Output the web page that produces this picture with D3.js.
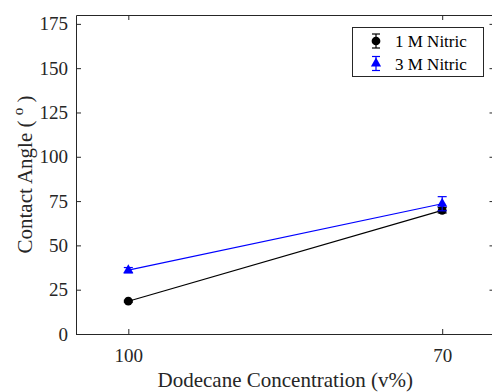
<!DOCTYPE html>
<html>
<head>
<meta charset="utf-8">
<script src="https://cdn.jsdelivr.net/npm/d3@7"></script>
<style>
  html, body { margin: 0; padding: 0; background: #fff; overflow: hidden; }
  svg text { font-family: "Liberation Serif", "Times New Roman", "DejaVu Serif", serif; }
</style>
</head>
<body>
<svg id="chart" width="492" height="392"></svg>
<script>
// Dodecane concentration (v%) on the x axis, reversed
const concentrations = [100, 70];
const xTickLabels = ["100", "70"];
const yTicks = [0, 25, 50, 75, 100, 125, 150, 175];

// Contact angle (degrees) and error bars per nitric acid concentration
const nitric1M = [18.5, 69.8];
const nitric1MErr = [0.5, 1.5];
const nitric3M = [36.0, 73.5];
const nitric3MErr = [1.5, 4.0];

const seriesNames = ["1 M Nitric", "3 M Nitric"];
const seriesColors = ["#000000", "#0000ff"];

const FONT = "'Liberation Serif', 'Times New Roman', 'DejaVu Serif', serif";
const svg = d3.select("#chart");
const W = 492, H = 392;
const plot = { left: 76, right: 494.5, top: 15, bottom: 334 };
const axisColor = "#262626";

const x = d3.scaleLinear().domain([105, 65]).range([plot.left, plot.right]);
const y = d3.scaleLinear().domain([0, 180]).range([plot.bottom, plot.top]);

const g = svg.append("g");

// Axes with inward ticks on all four sides
const tickLen = 5;
const bottomAxis = d3.axisBottom(x).tickValues(concentrations).tickFormat((d, i) => xTickLabels[i]).tickSizeInner(-tickLen).tickSizeOuter(0).tickPadding(15);
const topAxis = d3.axisTop(x).tickValues(concentrations).tickFormat("").tickSizeInner(-tickLen).tickSizeOuter(0);
const leftAxis = d3.axisLeft(y).tickValues(yTicks).tickSizeInner(-tickLen).tickSizeOuter(0).tickPadding(8);
const rightAxis = d3.axisRight(y).tickValues(yTicks).tickFormat("").tickSizeInner(-tickLen).tickSizeOuter(0);

function styleAxis(sel) {
  sel.attr("font-family", FONT).attr("font-size", 19);
  sel.select(".domain").attr("stroke", axisColor).attr("stroke-width", 1);
  sel.selectAll(".tick line").attr("stroke", axisColor).attr("stroke-width", 1);
  sel.selectAll(".tick text").attr("fill", axisColor);
}

g.append("g").attr("transform", `translate(0,${plot.bottom})`).call(bottomAxis).call(styleAxis);
g.append("g").attr("transform", `translate(0,${plot.top})`).call(topAxis).call(styleAxis);
g.append("g").attr("transform", `translate(${plot.left},0)`).call(leftAxis).call(styleAxis);
g.append("g").attr("transform", `translate(${plot.right},0)`).call(rightAxis).call(styleAxis);

// Axis titles
svg.append("text")
  .attr("x", (plot.left + plot.right) / 2)
  .attr("y", 387)
  .attr("text-anchor", "middle")
  .attr("fill", axisColor)
  .attr("font-family", FONT)
  .attr("font-size", 21)
  .text("Dodecane Concentration (v%)");

const yTitle = svg.append("text")
  .attr("transform", `translate(32,${(plot.top + plot.bottom) / 2}) rotate(-90)`)
  .attr("text-anchor", "middle")
  .attr("fill", axisColor)
  .attr("font-family", FONT)
  .attr("font-size", 21);
yTitle.append("tspan").text("Contact Angle ( ");
yTitle.append("tspan").attr("dy", -9).attr("font-size", 15).text("o");
yTitle.append("tspan").attr("dy", 9).text(" )");

// Series
const series = [
  { name: seriesNames[0], values: nitric1M, err: nitric1MErr, color: seriesColors[0], symbol: d3.symbolCircle, size: 60 },
  { name: seriesNames[1], values: nitric3M, err: nitric3MErr, color: seriesColors[1], symbol: d3.symbolTriangle, size: 45 }
];

const line = d3.line().x(d => x(d.c)).y(d => y(d.v));
const capW = 4.5;

series.forEach(s => {
  const pts = concentrations.map((c, i) => ({ c, v: s.values[i], e: s.err[i] }));
  g.append("path").datum(pts).attr("d", line).attr("fill", "none").attr("stroke", s.color).attr("stroke-width", 1.2);
  const eb = g.append("g").attr("stroke", s.color).attr("stroke-width", 1.2);
  pts.forEach(p => {
    const px = x(p.c), top = y(p.v + p.e), bot = y(p.v - p.e);
    eb.append("line").attr("x1", px).attr("x2", px).attr("y1", top).attr("y2", bot);
    eb.append("line").attr("x1", px - capW).attr("x2", px + capW).attr("y1", top).attr("y2", top);
    eb.append("line").attr("x1", px - capW).attr("x2", px + capW).attr("y1", bot).attr("y2", bot);
  });
  g.append("g").selectAll("path").data(pts).join("path")
    .attr("transform", d => `translate(${x(d.c)},${y(d.v)})`)
    .attr("d", d3.symbol().type(s.symbol).size(s.size))
    .attr("fill", s.color);
});

// Legend
const lg = svg.append("g").attr("transform", "translate(352.5,27.5)");
lg.append("rect").attr("width", 131).attr("height", 49).attr("fill", "#fff").attr("stroke", axisColor).attr("stroke-width", 1);
series.forEach((s, i) => {
  const cy = 13.5 + i * 22.5;
  const gi = lg.append("g").attr("transform", `translate(23.5,${cy})`);
  gi.append("line").attr("x1", 0).attr("x2", 0).attr("y1", -7).attr("y2", 7).attr("stroke", s.color).attr("stroke-width", 1.2);
  gi.append("line").attr("x1", -4).attr("x2", 4).attr("y1", -7).attr("y2", -7).attr("stroke", s.color).attr("stroke-width", 1.2);
  gi.append("line").attr("x1", -4).attr("x2", 4).attr("y1", 7).attr("y2", 7).attr("stroke", s.color).attr("stroke-width", 1.2);
  gi.append("path").attr("d", d3.symbol().type(s.symbol).size(s.size)).attr("fill", s.color);
  lg.append("text").attr("x", 42.5).attr("y", cy + 6).attr("fill", "#000").attr("font-family", FONT).attr("font-size", 17).text(s.name);
});
</script>
</body>
</html>
